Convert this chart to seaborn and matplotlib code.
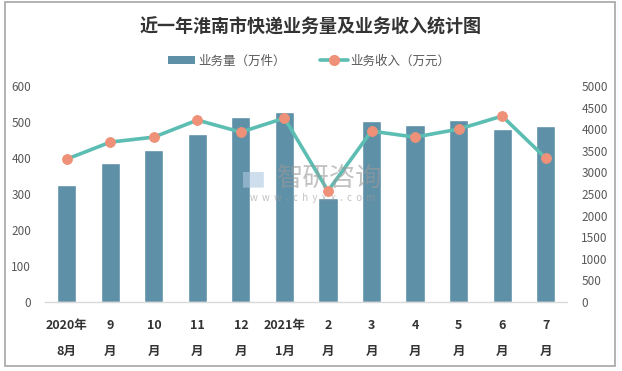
import numpy as np
import pandas as pd
import matplotlib
matplotlib.use('Agg')
import matplotlib.pyplot as plt
import seaborn as sns
from matplotlib.patches import Rectangle, Patch
from matplotlib.lines import Line2D

# 数据
months = ['2020年\n8月', '9\n月', '10\n月', '11\n月', '12\n月', '2021年\n1月',
          '2\n月', '3\n月', '4\n月', '5\n月', '6\n月', '7\n月']
volume = [324, 385, 421, 468, 513, 527, 290, 502, 491, 505, 480, 488]          # 业务量 (万件)
revenue = [3308, 3702, 3818, 4212, 3934, 4258, 2573, 3957, 3818, 4003, 4305, 3331]  # 业务收入 (万元)

bar_color = '#5E90A8'
line_color = '#5CBDB3'
dot_color = '#EE9178'
txt_color = '#595959'

sns.set_theme(style='white')
plt.rcParams['font.family'] = ['Noto Sans CJK SC', 'DejaVu Sans']

df = pd.DataFrame({'月份': months, '业务量': volume, '业务收入': revenue})

fig = plt.figure(figsize=(6.22, 3.71), dpi=100)
ax = fig.add_axes([0.0723, 0.186, 0.84, 0.582])

# 水印 (放在柱子后面一点的位置)
fig.text(0.53, 0.52, '智研咨询', ha='center', va='center', fontsize=19,
         color='#9A9A9A', alpha=0.6, zorder=5)
fig.text(0.503, 0.466, 'w  w  w  .  c  h  y  x  x  .  c  o  m', ha='center',
         va='center', fontsize=7, color='#9A9A9A', alpha=0.6, zorder=5)
fig.text(0.408, 0.52, '▆', ha='center', va='center', fontsize=15,
         color='#AFC8E0', alpha=0.6, zorder=5)

sns.barplot(data=df, x='月份', y='业务量', color=bar_color, width=0.44,
            saturation=1, ax=ax)
ax.set_ylim(0, 600)
ax.set_yticks(range(0, 601, 100))
ax.set_xlim(-0.5, 11.5)
ax.set_xlabel('')
ax.set_ylabel('')

ax2 = ax.twinx()
sns.lineplot(x=np.arange(len(revenue)), y=revenue, color=line_color, lw=2.6,
             marker='o', markersize=7, markerfacecolor=dot_color,
             markeredgecolor=dot_color, ax=ax2)
ax2.set_ylim(0, 5000)
ax2.set_yticks(range(0, 5001, 500))
ax2.set_xlim(-0.5, 11.5)

for a in (ax, ax2):
    for s in a.spines.values():
        s.set_visible(False)
    a.tick_params(axis='y', length=0, labelsize=8.5, labelcolor=txt_color, pad=10)
ax.spines['bottom'].set_visible(True)
ax.spines['bottom'].set_color('#D9D9D9')
ax.spines['bottom'].set_linewidth(1)

ax.set_xticks(range(len(months)))
ax.set_xticklabels(months, fontsize=9, fontweight='bold', color='#333333',
                   linespacing=2.3)
ax.tick_params(axis='x', length=0, pad=12)

# 标题与图例
fig.text(0.5, 0.927, '近一年淮南市快递业务量及业务收入统计图', ha='center', va='center',
         fontsize=13, fontweight='bold', color='#333333')
handles = [Patch(facecolor=bar_color, edgecolor='none'),
           Line2D([0], [0], color=line_color, lw=2.6, marker='o', markersize=7,
                  markerfacecolor=dot_color, markeredgecolor=dot_color)]
fig.legend(handles, ['业务量（万件）', '业务收入（万元）'], loc='center',
           bbox_to_anchor=(0.497, 0.836), ncol=2, frameon=False, fontsize=9,
           handlelength=2.2, handletextpad=0.2, columnspacing=2.8,
           labelcolor=txt_color)

# 外框
fig.patches.append(Rectangle((5 / 622, 1 - 366 / 371), 610 / 622, 364 / 371,
                             transform=fig.transFigure, fill=False,
                             edgecolor='#A6A6A6', lw=1.2))

fig.savefig('out.png', dpi=100)
